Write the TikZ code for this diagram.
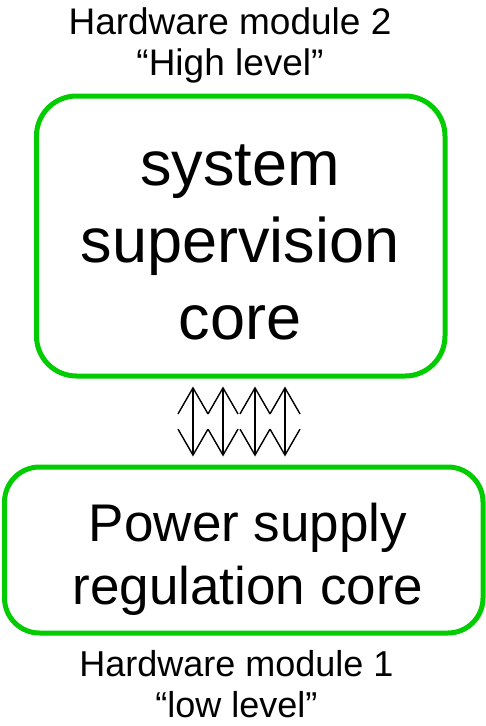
\documentclass[tikz,border=0pt]{standalone}
\usepackage{fontspec}
\setmainfont{Liberation Sans}
\usetikzlibrary{arrows.meta}
\definecolor{boxgreen}{RGB}{0,204,0}
\tikzset{
  corebox/.style={draw=boxgreen, line width=5pt, rectangle, inner sep=0pt, align=center},
  modlabel/.style={inner sep=0pt, align=center},
  link/.style={line width=1.4pt, {Straight Barb[length=26pt,width=30pt]}-{Straight Barb[length=26pt,width=30pt]}, shorten <=8pt, shorten >=8pt}
}
\begin{document}
\begin{tikzpicture}[x=1pt,y=-1pt]
  \useasboundingbox (0,0) rectangle (485,726);

  % upper hardware module
  \node[corebox, rounded corners=40pt, minimum width=408.5pt, minimum height=280pt]
    (sup) at (240.75,236) {};
  \node[modlabel, font=\fontsize{63}{77}\selectfont] (suptext) at (240,242)
    {system\\supervision\\core};
  \node[modlabel, font=\fontsize{37}{41}\selectfont] (toplabel) at (230,45)
    {Hardware module 2\\“High level”};

  % lower hardware module
  \node[corebox, rounded corners=35pt, minimum width=478.5pt, minimum height=166pt]
    (psu) at (243.75,550) {};
  \node[modlabel, font=\fontsize{53}{63}\selectfont] (psutext) at (248,559)
    {Power supply\\regulation core};
  \node[modlabel, font=\fontsize{36}{41}\selectfont] (botlabel) at (236.5,684)
    {Hardware module 1\\“low level”};

  % bidirectional links between the two modules
  \foreach \lx in {193,223,255,285}
    \draw[link] (sup.south -| \lx,0) -- (psu.north -| \lx,0);
\end{tikzpicture}
\end{document}
